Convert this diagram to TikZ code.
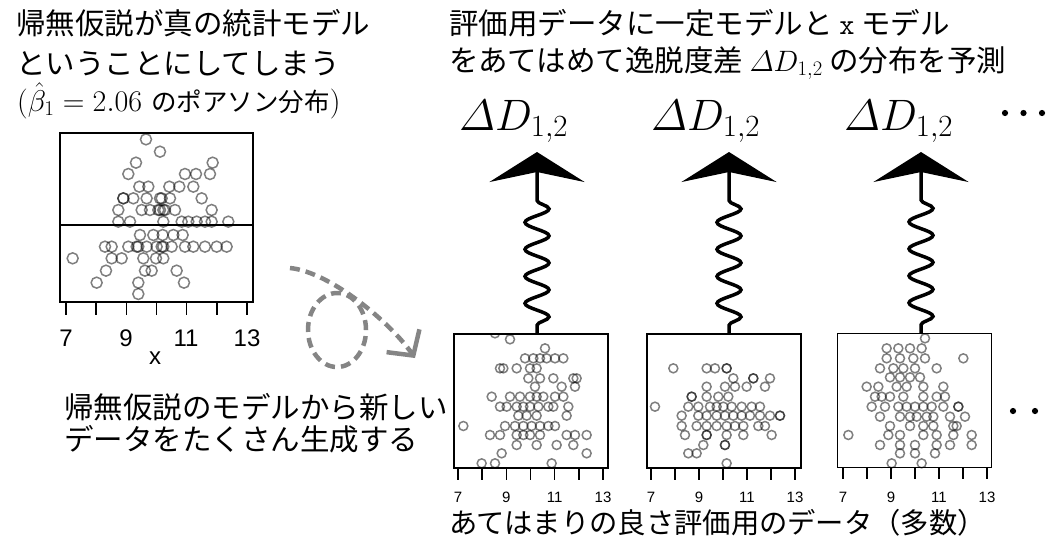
\RequirePackage{fix-cm}
\documentclass[tikz,border=0pt]{standalone}
\usepackage[no-math]{fontspec}
\usepackage{amsmath}
\newfontfamily\jp{Noto Sans CJK JP}
\newfontfamily\plotfont{Liberation Sans}
\usetikzlibrary{arrows.meta,decorations.pathmorphing}
\tikzset{
  jtitle/.style={anchor=base west, inner sep=0pt, font={\jp\fontsize{29.5pt}{34pt}\selectfont}},
  jsmall/.style={anchor=base west, inner sep=0pt, font={\fontsize{30pt}{34pt}\selectfont}},
  dlabel/.style={anchor=base west, inner sep=0pt, font={\fontsize{44pt}{50pt}\selectfont}},
  bigpanel/.style={draw, line width=1.4pt, inner sep=0pt, minimum width=193pt, minimum height=169pt},
  smallpanel/.style={draw, line width=1.4pt, inner sep=0pt, minimum width=154pt, minimum height=134pt},
  tickline/.style={line width=1.4pt},
  bigtick/.style={inner sep=0pt, font={\plotfont\fontsize{24pt}{28pt}\selectfont}},
  smalltick/.style={inner sep=0pt, font={\plotfont\fontsize{15pt}{17pt}\selectfont}},
  pt/.style={draw=black, draw opacity=0.5, line width=1.5pt},
  wavy/.style={line width=3.5pt, decorate,
    decoration={snake, segment length=27pt, amplitude=-12pt, pre length=8pt, post length=40pt},
    -{Stealth[length=30pt,width=95pt,inset=10pt]}},
  grayarrow/.style={draw=black!48, line width=4.5pt, dash pattern=on 10pt off 6pt,
    -{Straight Barb[length=18pt,width=40pt]}},
  grayloop/.style={draw=black!48, line width=4.5pt, dash pattern=on 10pt off 6pt},
  bigdot/.style={fill=black},
}
\begin{document}
\begin{tikzpicture}[x=1pt,y=-1pt]
\useasboundingbox (0,0) rectangle (1048,547);

% titles
\node[jtitle] (tl1) at (16,34) {帰無仮説が真の統計モデル};
\node[jtitle] (tl2) at (16,74) {ということにしてしまう};
\node[jsmall] (tl3) at (17,111) {($\hat{\beta}_1 = 2.06$ {\jp\fontsize{25.5pt}{30pt}\selectfont のポアソン分布})};
\node[jtitle] (tr1) at (449,34) {評価用データに一定モデルと \texttt{x} モデル};
\node[jtitle] (tr2) at (449,71) {をあてはめて逸脱度差 {\fontsize{29.5pt}{34pt}\selectfont$\varDelta D_{1,2}$} の分布を予測};

% big plot
\node[bigpanel] (bp) at (156.5,217.5) {};
\begin{scope}[shift={(30pt,-120pt)}, x=0.3333pt, y=-0.3333pt]
\foreach \p in {(348,58),(390,95),(318,128),(548,128),(295,162),(465,162),(498,162),(540,162),(328,200),(355,200),(418,200),(448,200),(490,200),(280,235),(310,235),(350,235),(390,235),(420,235),(515,235),(395,235),(280,235),(265,270),(335,270),(360,270),(385,270),(405,270),(435,270),(545,270),(390,270),(400,270),(265,305),(300,305),(400,305),(455,305),(475,305),(500,305),(525,305),(545,305),(595,305),(330,345),(370,345),(398,345),(430,345),(458,345),(225,380),(245,380),(295,380),(325,380),(350,380),(380,380),(400,380),(425,380),(465,380),(490,380),(525,380),(560,380),(590,380),(320,380),(395,380),(128,415),(245,415),(275,415),(340,415),(378,415),(400,415),(228,452),(345,452),(365,452),(440,452),(200,488),(325,488),(462,488),(325,522)}
  \draw[pt] \p circle[radius=5.5pt];
\end{scope}
\draw[line width=2pt] (bp.west |- 0,225) -- (bp.east |- 0,225);
\foreach \i in {0,...,6} \draw[tickline] ({66+30.17*\i},302) -- ++(0,13);
\foreach \v/\xx in {7/66,9/126,11/186,13/247} \node[bigtick] (bt\v) at (\xx,338) {\v};
\node[bigtick] (bx) at (155,358) {x};

% dashed curly arrow
\coordinate (g0) at (290,268);
\coordinate (g1) at (415,358);
\draw[grayarrow] (g0) .. controls (330,272) and (390,322) .. (g1);
\draw[grayloop] (337,330) ellipse[x radius=29pt, y radius=37pt];

% left middle text
\node[jtitle] (m1) at (64,418) {帰無仮説のモデルから新しい};
\node[jtitle] (m2) at (64,450) {データをたくさん生成する};

% small panels
\node[smallpanel] (p1) at (531,401) {};
\node[smallpanel] (p2) at (724,401) {};
\node[smallpanel] (p3) at (914.5,400.5) {};

\begin{scope}
\clip (p1.south west) rectangle (p1.north east);
\begin{scope}[shift={(440pt,-320pt)}, x=0.3333pt, y=-0.3333pt]
\foreach \p in {(165,40),(210,58),(315,85),(255,115),(280,115),(300,115),(320,115),(345,115),(370,115),(180,145),(190,145),(230,145),(270,145),(290,145),(410,175),(400,175),(265,175),(300,175),(340,175),(405,200),(285,200),(365,200),(155,230),(210,230),(240,230),(270,230),(290,230),(310,230),(345,230),(370,230),(180,260),(200,260),(230,260),(250,260),(270,260),(295,260),(325,260),(340,260),(385,260),(235,287),(260,287),(290,287),(380,287),(70,318),(195,318),(225,318),(250,318),(275,318),(300,318),(325,318),(345,318),(150,345),(180,345),(230,345),(250,345),(270,345),(300,345),(380,345),(405,345),(440,345),(230,375),(290,375),(350,375),(400,375),(185,400),(440,400),(125,430),(165,430),(335,430)}
  \draw[pt] \p circle[radius=4.5pt];
\end{scope}
\end{scope}

\begin{scope}
\clip (p2.south west) rectangle (p2.north east);
\begin{scope}[shift={(440pt,-320pt)}, x=0.3333pt, y=-0.3333pt]
\foreach \p in {(700,145),(800,145),(825,145),(860,145),(860,145),(880,175),(940,175),(940,175),(990,175),(800,200),(855,200),(885,200),(920,200),(975,200),(755,230),(755,230),(800,230),(835,230),(865,230),(645,260),(745,260),(775,260),(810,260),(830,260),(850,260),(875,260),(905,260),(935,260),(960,260),(725,287),(775,287),(800,287),(830,287),(855,287),(880,287),(905,287),(930,287),(960,287),(990,287),(1020,287),(1020,287),(725,318),(770,318),(800,318),(830,318),(860,318),(885,318),(910,318),(955,318),(975,318),(735,345),(800,345),(800,345),(860,345),(910,345),(995,345),(790,375),(855,375),(855,375),(745,400),(770,400),(860,430)}
  \draw[pt] \p circle[radius=4.5pt];
\end{scope}
\end{scope}

\begin{scope}
\clip (p3.south west) rectangle (p3.north east);
\begin{scope}[shift={(800pt,-320pt)}, x=0.3333pt, y=-0.3333pt]
\foreach \p in {(375,55),(260,85),(295,85),(330,85),(365,85),(490,115),(260,115),(300,115),(340,115),(375,115),(240,145),(280,145),(310,145),(345,145),(410,145),(270,172),(300,172),(330,172),(360,172),(200,200),(235,200),(290,200),(320,200),(370,200),(430,200),(225,230),(245,230),(270,230),(310,230),(370,230),(410,230),(435,230),(215,260),(255,260),(295,260),(320,260),(345,260),(370,260),(395,260),(430,260),(475,260),(475,260),(240,290),(300,290),(330,290),(350,290),(380,290),(400,290),(450,290),(495,290),(270,318),(330,318),(370,318),(400,318),(460,318),(470,318),(145,345),(265,345),(300,345),(370,345),(410,345),(460,345),(515,345),(240,375),(300,375),(345,375),(410,375),(450,375),(515,375),(300,400),(345,400),(405,400),(275,430),(365,430)}
  \draw[pt] \p circle[radius=4.5pt];
\end{scope}
\end{scope}

\foreach \i in {0,...,6} {
  \draw[tickline] ({458+24.17*\i},468) -- ++(0,12);
  \draw[tickline] ({651+24*\i},468) -- ++(0,12);
  \draw[tickline] ({843+24*\i},467) -- ++(0,12);
}
\foreach \v/\k in {7/0,9/2,11/4,13/6} {
  \node[smalltick] (sa\v) at ({458+24.17*\k},497) {\v};
  \node[smalltick] (sb\v) at ({651+24*\k},497) {\v};
  \node[smalltick] (sc\v) at ({843+24*\k},497) {\v};
}

\node[jtitle, font={\jp\fontsize{28.3pt}{32pt}\selectfont}] (bl) at (449,533) {あてはまりの良さ評価用のデータ（多数）};

% Delta D labels
\node[dlabel] (d1) at (459,130) {$\varDelta D_{1,2}$};
\node[dlabel] (d2) at (651,130) {$\varDelta D_{1,2}$};
\node[dlabel] (d3) at (844,130) {$\varDelta D_{1,2}$};
\foreach \xx in {1005,1023.5,1042} \fill[bigdot] (\xx,113) circle[radius=3.1pt];
\foreach \xx in {1013,1035} \fill[bigdot] (\xx,411) circle[radius=3.1pt];

% wavy arrows
\coordinate (a1) at (537,152);
\coordinate (a2) at (729,152);
\coordinate (a3) at (921,152);
\draw[wavy] (a1 |- p1.north) -- (a1);
\draw[wavy] (a2 |- p2.north) -- (a2);
\draw[wavy] (a3 |- p3.north) -- (a3);
\end{tikzpicture}
\end{document}
